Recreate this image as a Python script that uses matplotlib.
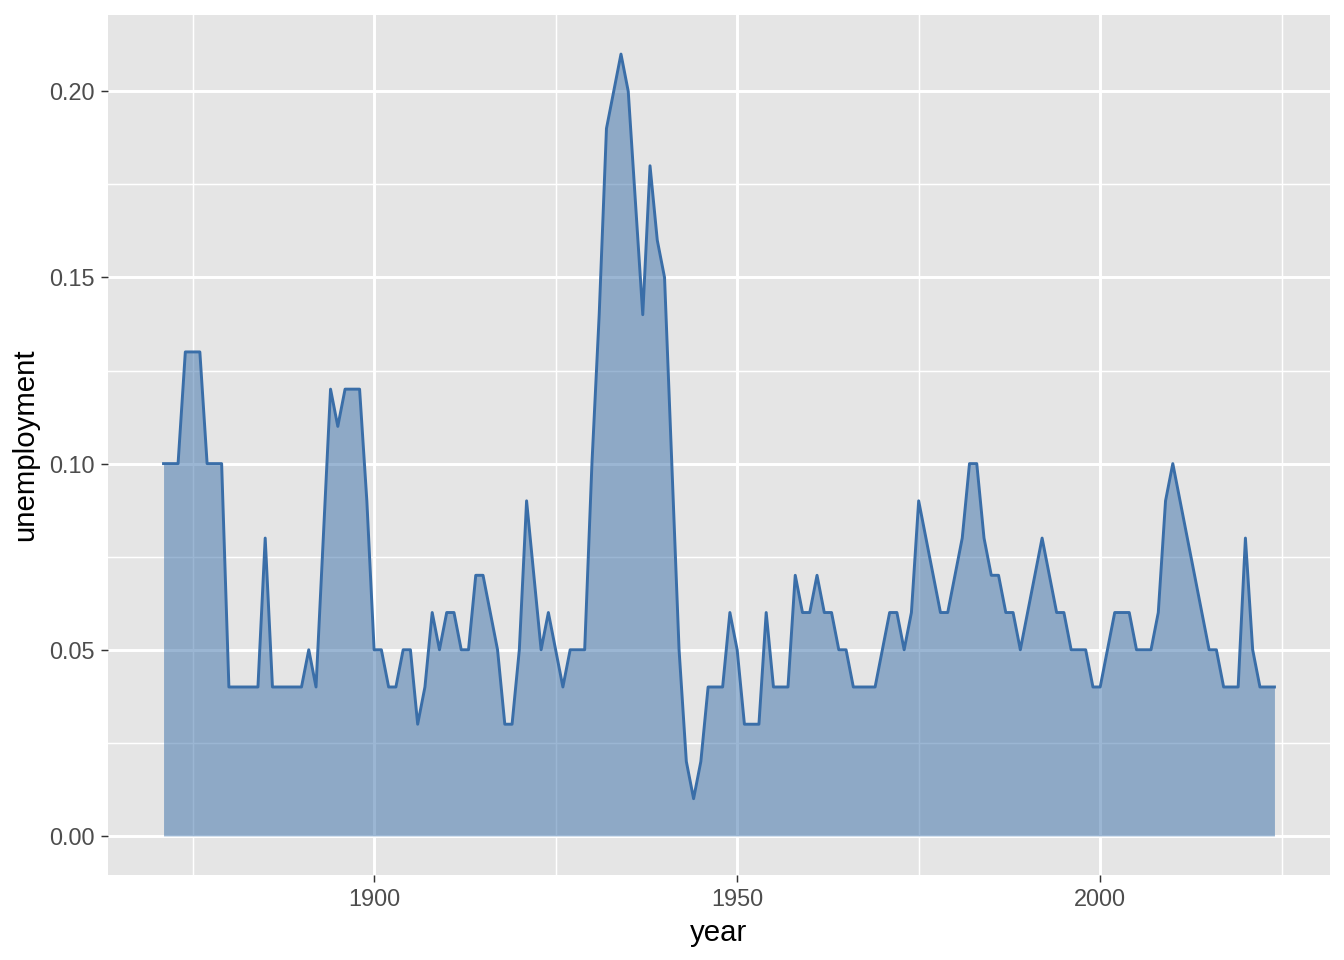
import matplotlib
matplotlib.use("Agg")
import matplotlib.pyplot as plt
import numpy as np
from matplotlib.ticker import FixedLocator, FormatStrFormatter

plt.rcParams["font.family"] = ["Liberation Sans", "DejaVu Sans"]

# -------------------------
# DATA
# -------------------------
years = np.arange(1871, 2025)
unemployment = [
    # 1871-1880
    0.10, 0.10, 0.10, 0.13, 0.13, 0.13, 0.10, 0.10, 0.10, 0.04,
    # 1881-1890
    0.04, 0.04, 0.04, 0.04, 0.08, 0.04, 0.04, 0.04, 0.04, 0.04,
    # 1891-1900
    0.05, 0.04, 0.08, 0.12, 0.11, 0.12, 0.12, 0.12, 0.09, 0.05,
    # 1901-1910
    0.05, 0.04, 0.04, 0.05, 0.05, 0.03, 0.04, 0.06, 0.05, 0.06,
    # 1911-1920
    0.06, 0.05, 0.05, 0.07, 0.07, 0.06, 0.05, 0.03, 0.03, 0.05,
    # 1921-1930
    0.09, 0.07, 0.05, 0.06, 0.05, 0.04, 0.05, 0.05, 0.05, 0.10,
    # 1931-1940
    0.14, 0.19, 0.20, 0.21, 0.20, 0.17, 0.14, 0.18, 0.16, 0.15,
    # 1941-1950
    0.10, 0.05, 0.02, 0.01, 0.02, 0.04, 0.04, 0.04, 0.06, 0.05,
    # 1951-1960
    0.03, 0.03, 0.03, 0.06, 0.04, 0.04, 0.04, 0.07, 0.06, 0.06,
    # 1961-1970
    0.07, 0.06, 0.06, 0.05, 0.05, 0.04, 0.04, 0.04, 0.04, 0.05,
    # 1971-1980
    0.06, 0.06, 0.05, 0.06, 0.09, 0.08, 0.07, 0.06, 0.06, 0.07,
    # 1981-1990
    0.08, 0.10, 0.10, 0.08, 0.07, 0.07, 0.06, 0.06, 0.05, 0.06,
    # 1991-2000
    0.07, 0.08, 0.07, 0.06, 0.06, 0.05, 0.05, 0.05, 0.04, 0.04,
    # 2001-2010
    0.05, 0.06, 0.06, 0.06, 0.05, 0.05, 0.05, 0.06, 0.09, 0.10,
    # 2011-2020
    0.09, 0.08, 0.07, 0.06, 0.05, 0.05, 0.04, 0.04, 0.04, 0.08,
    # 2021-2024
    0.05, 0.04, 0.04, 0.04,
]

x_major = [1900, 1950, 2000]
x_minor = [1875, 1925, 1975, 2025]
y_major = [0.00, 0.05, 0.10, 0.15, 0.20]
y_minor = [0.025, 0.075, 0.125, 0.175]

# -------------------------
# PLOT
# -------------------------
line_color = "#3A6EA8"
fill_color = "#396FA9"

fig = plt.figure(figsize=(7, 5), dpi=192)
ax = fig.add_axes([108 / 1344, 1 - 875 / 960, (1330 - 108) / 1344, (875 - 15) / 960])
ax.set_facecolor("#E5E5E5")

ax.fill_between(years, 0, unemployment, color=fill_color, alpha=0.5, linewidth=0, zorder=2)
ax.plot(years, unemployment, color=line_color, linewidth=1.1, zorder=3)

span_x = years[-1] - years[0]
ax.set_xlim(years[0] - 0.05 * span_x, years[-1] + 0.05 * span_x)
ax.set_ylim(-0.05 * 0.21, 0.21 * 1.05)

ax.xaxis.set_major_locator(FixedLocator(x_major))
ax.xaxis.set_minor_locator(FixedLocator(x_minor))
ax.yaxis.set_major_locator(FixedLocator(y_major))
ax.yaxis.set_minor_locator(FixedLocator(y_minor))
ax.yaxis.set_major_formatter(FormatStrFormatter("%.2f"))

ax.grid(which="major", color="white", linewidth=1.1, zorder=1)
ax.grid(which="minor", color="white", linewidth=0.55, zorder=1)
ax.set_axisbelow(True)

for s in ax.spines.values():
    s.set_visible(False)

ax.tick_params(which="major", length=2.75, width=0.55, color="#333333",
               labelsize=8.8, labelcolor="#4D4D4D", pad=2.2)
ax.tick_params(which="minor", length=0)

ax.set_xlabel("year", fontsize=11, color="black", labelpad=3)
ax.set_ylabel("unemployment", fontsize=11, color="black", labelpad=4)

fig.savefig("out.png", dpi=192)
